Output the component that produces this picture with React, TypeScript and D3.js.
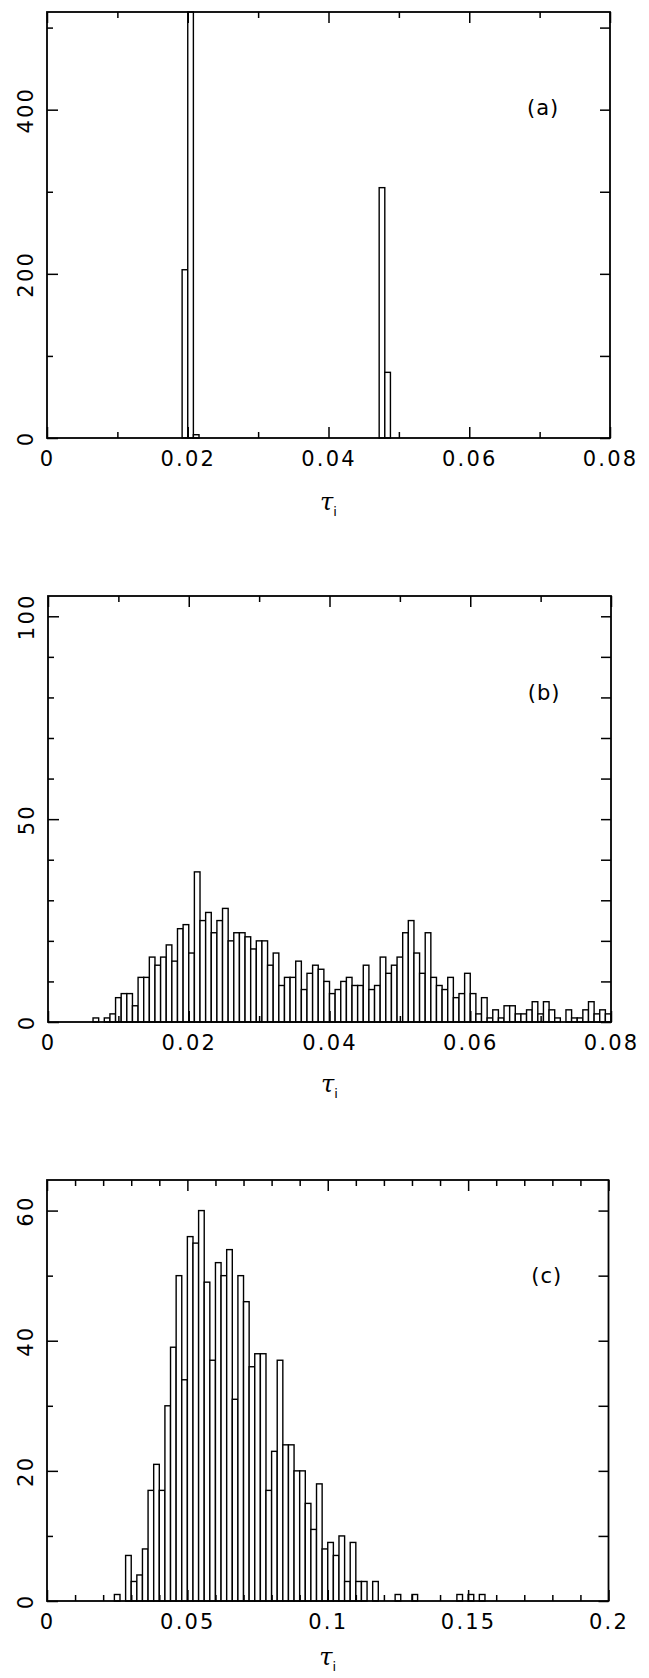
import React, { useRef, useEffect } from "react";
import * as d3 from "d3";

const FONT = "'DejaVu Sans', sans-serif";

// (a) only the non-empty bins, bin width 0.0008
// the 0.0200 bin runs past the top of the frame
const binWidthA = 0.0008;
const binStartA = [0.0192, 0.02, 0.0208, 0.0472, 0.048];
const countsA = [205, 560, 4, 305, 80];

// (b) bin width 0.0008, counts start at the 0.0064 bin
const binWidthB = 0.0008;
const firstBinB = 0.0064;
const countsB = [
  1, 0, 1, 2, 6, 7, 7, 4, 11, 11,
  16, 14, 16, 19, 15, 23, 24, 17, 37, 25,
  27, 22, 25, 28, 20, 22, 22, 21, 18, 20,
  20, 14, 17, 9, 11, 11, 15, 8, 12, 14,
  13, 10, 7, 8, 10, 11, 9, 9, 14, 8,
  9, 16, 12, 14, 16, 22, 25, 17, 12, 22,
  11, 9, 8, 11, 6, 7, 12, 7, 2, 6,
  1, 3, 1, 4, 4, 2, 2, 3, 5, 2,
  5, 3, 1, 0, 3, 1, 1, 3, 5, 2,
  3, 2,
];

// (c) bin width 0.002, counts start at the 0.024 bin
const binWidthC = 0.002;
const firstBinC = 0.024;
const countsC = [
  1, 0, 7, 3, 4, 8, 17, 21, 17, 30,
  39, 50, 34, 56, 55, 60, 49, 37, 52, 50,
  54, 31, 50, 46, 36, 38, 38, 17, 23, 37,
  24, 24, 20, 20, 15, 11, 18, 8, 9, 7,
  10, 3, 9, 3, 3, 0, 3, 0, 0, 0,
  1, 0, 0, 1, 0, 0, 0, 0, 0, 0,
  0, 1, 0, 1, 0, 1,
];

const xMajorA = [0, 0.02, 0.04, 0.06, 0.08];
const xLabelsA = ["0", "0.02", "0.04", "0.06", "0.08"];
const yMajorA = [0, 200, 400];
const yLabelsA = ["0", "200", "400"];

const xMajorB = [0, 0.02, 0.04, 0.06, 0.08];
const xLabelsB = ["0", "0.02", "0.04", "0.06", "0.08"];
const yMajorB = [0, 50, 100];
const yLabelsB = ["0", "50", "100"];

const xMajorC = [0, 0.05, 0.1, 0.15, 0.2];
const xLabelsC = ["0", "0.05", "0.1", "0.15", "0.2"];
const yMajorC = [0, 20, 40, 60];
const yLabelsC = ["0", "20", "40", "60"];

const panels = [
  {
    tag: "(a)", tagX: 0.0705, tagY: 402, titleGap: 72,
    starts: binStartA, counts: countsA, bw: binWidthA,
    xDomain: [0, 0.08], yDomain: [0, 519], xMinor: 8, yMinor: 5,
    xMajor: xMajorA, xLabels: xLabelsA, yMajor: yMajorA, yLabels: yLabelsA,
    left: 47, right: 610, top: 12, bottom: 438,
  },
  {
    tag: "(b)", tagX: 0.0705, tagY: 81, titleGap: 70,
    starts: countsB.map((_, i) => firstBinB + i * binWidthB), counts: countsB, bw: binWidthB,
    xDomain: [0, 0.08], yDomain: [0, 105], xMinor: 8, yMinor: 10,
    xMajor: xMajorB, xLabels: xLabelsB, yMajor: yMajorB, yLabels: yLabelsB,
    left: 48, right: 611, top: 596, bottom: 1022,
  },
  {
    tag: "(c)", tagX: 0.178, tagY: 50, titleGap: 64,
    starts: countsC.map((_, i) => firstBinC + i * binWidthC), counts: countsC, bw: binWidthC,
    xDomain: [0, 0.2], yDomain: [0, 64.7], xMinor: 20, yMinor: 6,
    xMajor: xMajorC, xLabels: xLabelsC, yMajor: yMajorC, yLabels: yLabelsC,
    left: 47, right: 608.5, top: 1180, bottom: 1601,
  },
];

const styleAxis = (sel) => {
  sel.select(".domain").remove();
  sel.attr("font-family", FONT).attr("font-size", 21).attr("color", "#000");
  sel.selectAll("line").attr("stroke-width", 1.5);
  sel.selectAll("text").attr("letter-spacing", 2.2);
};

const drawPanel = (svg, p) => {
  const x = d3.scaleLinear().domain(p.xDomain).range([p.left, p.right]);
  const y = d3.scaleLinear().domain(p.yDomain).range([p.bottom, p.top]).clamp(true);

  const g = svg.append("g");

  const bars = p.starts
    .map((s, i) => ({ x0: s, x1: s + p.bw, n: p.counts[i] }))
    .filter(d => d.n > 0);

  g.selectAll("rect.bar")
    .data(bars)
    .join("rect")
    .attr("class", "bar")
    .attr("x", d => x(d.x0))
    .attr("width", d => x(d.x1) - x(d.x0))
    .attr("y", d => y(d.n))
    .attr("height", d => y(0) - y(d.n))
    .attr("fill", "#fff")
    .attr("stroke", "#000")
    .attr("stroke-width", 1.4);

  // minor ticks, all four sides, pointing in
  const xMinor = x.ticks(p.xMinor).filter(v => !p.xMajor.some(m => Math.abs(m - v) < 1e-9));
  const yMinor = y.ticks(p.yMinor).filter(v => !p.yMajor.includes(v));

  g.append("g").attr("transform", `translate(0,${p.bottom})`)
    .call(d3.axisBottom(x).tickValues(xMinor).tickSize(-6).tickSizeOuter(0).tickFormat(() => ""))
    .call(styleAxis);
  g.append("g").attr("transform", `translate(0,${p.top})`)
    .call(d3.axisTop(x).tickValues(xMinor).tickSize(-6).tickSizeOuter(0).tickFormat(() => ""))
    .call(styleAxis);
  g.append("g").attr("transform", `translate(${p.left},0)`)
    .call(d3.axisLeft(y).tickValues(yMinor).tickSize(-6).tickSizeOuter(0).tickFormat(() => ""))
    .call(styleAxis);
  g.append("g").attr("transform", `translate(${p.right},0)`)
    .call(d3.axisRight(y).tickValues(yMinor).tickSize(-10).tickSizeOuter(0).tickFormat(() => ""))
    .call(styleAxis);

  // major ticks with labels
  g.append("g").attr("transform", `translate(0,${p.bottom})`)
    .call(d3.axisBottom(x).tickValues(p.xMajor).tickSize(-11).tickSizeOuter(0).tickPadding(13)
      .tickFormat((d, i) => p.xLabels[i]))
    .call(styleAxis);
  g.append("g").attr("transform", `translate(0,${p.top})`)
    .call(d3.axisTop(x).tickValues(p.xMajor).tickSize(-11).tickSizeOuter(0).tickFormat(() => ""))
    .call(styleAxis);
  g.append("g").attr("transform", `translate(${p.left},0)`)
    .call(d3.axisLeft(y).tickValues(p.yMajor).tickSize(-11).tickSizeOuter(0)
      .tickFormat((d, i) => p.yLabels[i]))
    .call(styleAxis)
    .call(a => a.selectAll("text")
      .attr("transform", "rotate(-90)")
      .attr("x", 0)
      .attr("y", -14)
      .attr("dy", 0)
      .attr("text-anchor", "middle"));
  g.append("g").attr("transform", `translate(${p.right},0)`)
    .call(d3.axisRight(y).tickValues(p.yMajor).tickSize(-10).tickSizeOuter(0).tickFormat(() => ""))
    .call(styleAxis);

  // frame
  g.append("rect")
    .attr("x", p.left)
    .attr("y", p.top)
    .attr("width", p.right - p.left)
    .attr("height", p.bottom - p.top)
    .attr("fill", "none")
    .attr("stroke", "#000")
    .attr("stroke-width", 1.8);

  // panel tag
  g.append("text")
    .attr("x", x(p.tagX))
    .attr("y", y(p.tagY) + 7)
    .attr("font-family", FONT)
    .attr("font-size", 21)
    .attr("letter-spacing", 1)
    .attr("text-anchor", "middle")
    .text(p.tag);

  // axis title tau_i
  const title = g.append("text")
    .attr("x", (p.left + p.right) / 2)
    .attr("y", p.bottom + p.titleGap)
    .attr("text-anchor", "middle")
    .attr("font-size", 24);
  title.append("tspan")
    .attr("font-family", "'DejaVu Serif', serif")
    .attr("font-style", "italic")
    .text("τ");
  title.append("tspan")
    .attr("font-family", FONT)
    .attr("font-size", 13)
    .attr("dy", 6)
    .text("i");
};

const App = () => {
  const svgRef = useRef(null);

  useEffect(() => {
    const svg = d3.select(svgRef.current);
    svg.selectAll("*").remove();
    panels.forEach(p => drawPanel(svg, p));
  }, []);

  return (
    <svg
      ref={svgRef}
      width={649}
      height={1678}
      style={{ position: "absolute", left: 0, top: 0, background: "#fff" }}
    />
  );
};

export default App;
